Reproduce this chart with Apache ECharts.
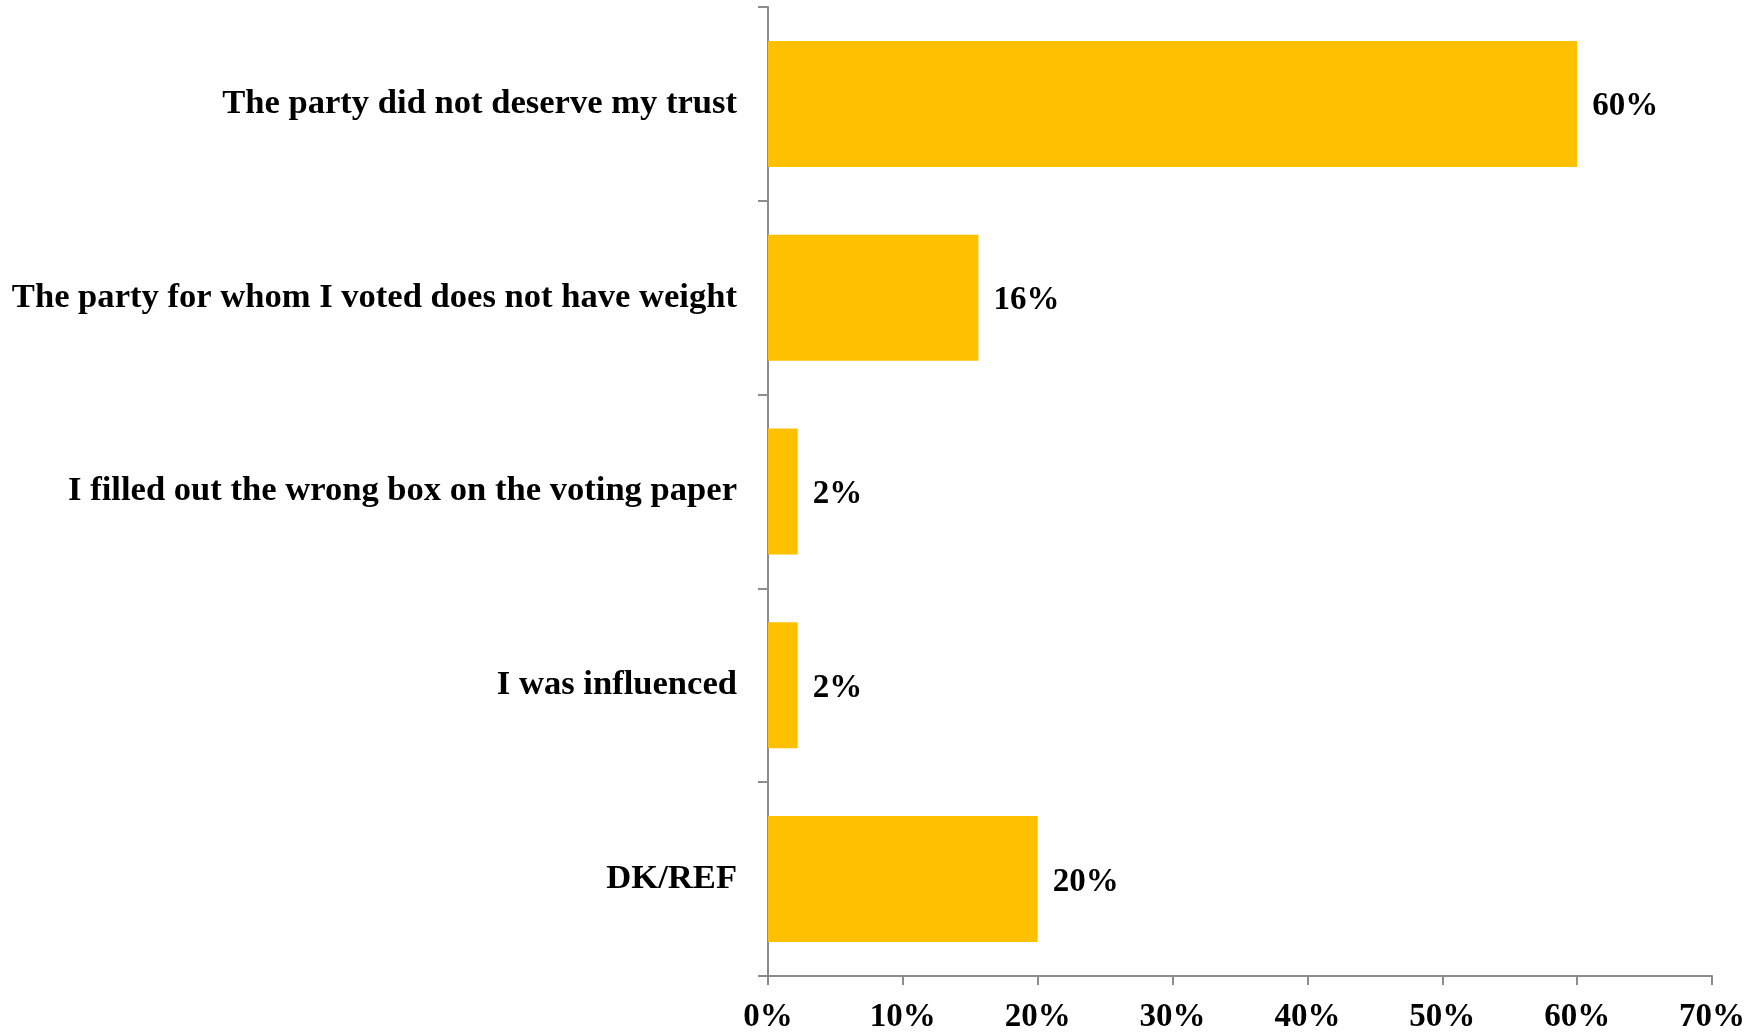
<!DOCTYPE html>
<html>
<head>
<meta charset="utf-8">
<script src="https://cdn.jsdelivr.net/npm/echarts@6/dist/echarts.min.js"></script>
<style>
html,body{margin:0;padding:0;background:#fff;}
#chart{width:1761px;height:1034px;}
</style>
</head>
<body>
<div id="chart"></div>
<script>
const categories = [
  "The party did not deserve my trust",
  "The party for whom I voted does not have weight",
  "I filled out the wrong box on the voting paper",
  "I was influenced",
  "DK/REF"
];
const values = [60.0, 15.6, 2.2, 2.2, 20.0];
const xTicks = [0, 10, 20, 30, 40, 50, 60, 70];

const font = "'Liberation Serif', 'Times New Roman', serif";
const chart = echarts.init(document.getElementById('chart'), null, {renderer: 'canvas'});
chart.setOption({
  animation: false,
  backgroundColor: '#ffffff',
  grid: {left: 768, right: 49, top: 7, bottom: 54, containLabel: false},
  xAxis: {
    type: 'value',
    min: xTicks[0],
    max: xTicks[xTicks.length - 1],
    interval: 10,
    splitLine: {show: false},
    axisLine: {show: true, lineStyle: {color: '#8c8c8c', width: 2}},
    axisTick: {show: true, length: 9, lineStyle: {color: '#8c8c8c', width: 2}},
    axisLabel: {
      margin: 25,
      formatter: v => v + '%',
      fontFamily: font, fontWeight: 'bold', fontSize: 33, color: '#000'
    }
  },
  yAxis: {
    type: 'category',
    inverse: true,
    data: categories,
    axisLine: {show: true, lineStyle: {color: '#8c8c8c', width: 2}},
    axisTick: {show: true, length: 10, lineStyle: {color: '#8c8c8c', width: 2}},
    axisLabel: {
      margin: 31,
      padding: [7, 0, 0, 0],
      fontFamily: font, fontWeight: 'bold', fontSize: 34.6, color: '#000'
    }
  },
  series: [{
    type: 'bar',
    data: values,
    barWidth: '65%',
    itemStyle: {color: '#FFC000'},
    label: {
      show: true,
      position: 'right',
      distance: 15,
      offset: [0, 3],
      formatter: p => Math.round(p.value) + '%',
      fontFamily: font, fontWeight: 'bold', fontSize: 33, color: '#000'
    }
  }]
});
</script>
</body>
</html>
